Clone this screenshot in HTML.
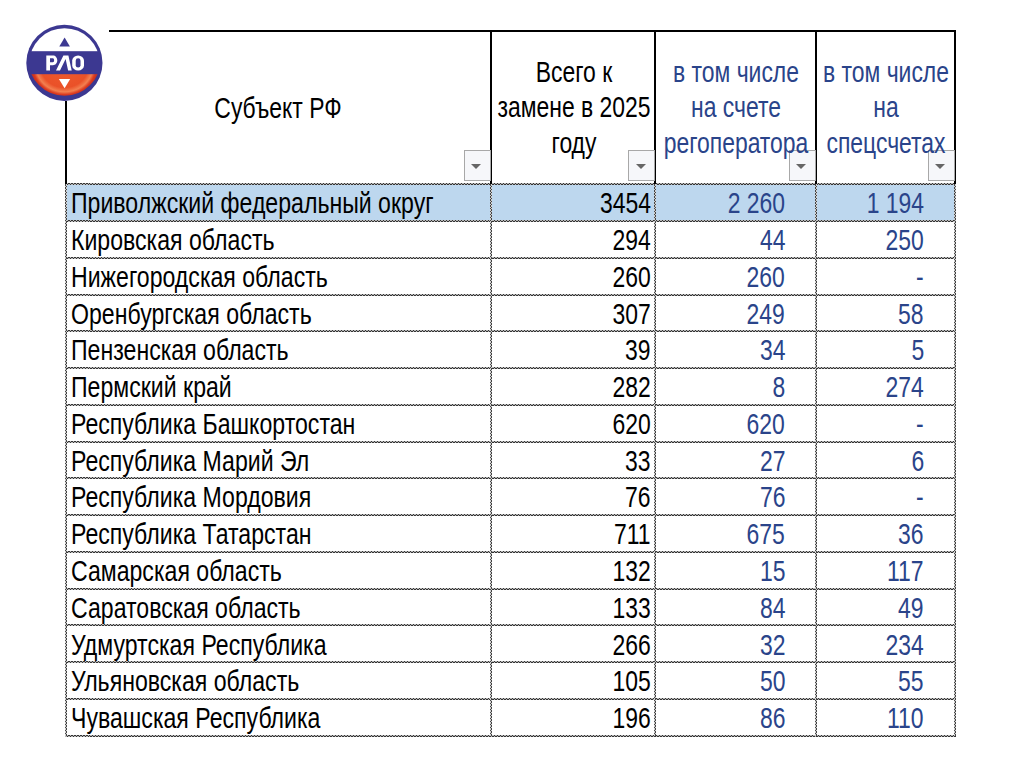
<!DOCTYPE html>
<html><head><meta charset="utf-8"><style>
html,body{margin:0;padding:0;background:#fff;width:1024px;height:767px;overflow:hidden;position:relative}
.t{position:absolute;font-family:"Liberation Sans",sans-serif;font-size:29.2px;line-height:29.2px;white-space:nowrap;transform:scaleX(0.785);transform-origin:0 0}
.t.n{transform:scaleX(0.7915)}
.t.r{transform-origin:100% 0}
.t.c{width:600px;text-align:center;transform-origin:50% 0}
.hd{position:absolute;left:65px;width:891px;height:2px;background:repeating-linear-gradient(90deg,#333 0 1.5px,#b8b8b8 1.5px 3px) 0 0/100% 1px no-repeat,repeating-linear-gradient(90deg,#b8b8b8 0 1.5px,#333 1.5px 3px) 0 1px/100% 1px no-repeat}
.vd{position:absolute;top:184px;height:552px;width:2px;background:repeating-linear-gradient(180deg,#444 0 1.5px,#d0d0d0 1.5px 3px) 0 0/1px 100% no-repeat,repeating-linear-gradient(180deg,#d0d0d0 0 1.5px,#444 1.5px 3px) 1px 0/1px 100% no-repeat}
.fb{position:absolute;top:150px;width:27px;height:31px;border:1px solid #a8a8a8;background:#f6f7fa;box-sizing:border-box}
.tri{position:absolute;left:6.5px;top:13px;width:0;height:0;border-left:5px solid transparent;border-right:5px solid transparent;border-top:5px solid #666}
</style></head><body>
<svg style="position:absolute;left:0;top:0" width="130" height="110" viewBox="0 0 130 110">
<defs>
<radialGradient id="rg" cx="64.5" cy="66" r="30" gradientTransform="translate(64.5 66) scale(1.1 1) translate(-64.5 -66)" gradientUnits="userSpaceOnUse">
<stop offset="0" stop-color="#EE5C2E"/><stop offset="0.72" stop-color="#EA5128"/><stop offset="0.86" stop-color="#F38050"/><stop offset="0.95" stop-color="#DC3B20"/><stop offset="1" stop-color="#CC321E"/>
</radialGradient>
<clipPath id="cc"><circle cx="64.5" cy="63.3" r="35.1"/></clipPath>
<clipPath id="cb"><circle cx="64.5" cy="59.4" r="36.3"/></clipPath>
</defs>
<circle cx="64.4" cy="62.9" r="38.1" fill="#3C3891"/>
<g clip-path="url(#cc)">
<rect x="20" y="20" width="90" height="31.2" fill="#fff"/>
</g>
<g clip-path="url(#cb)">
<rect x="20" y="74.2" width="90" height="30" fill="url(#rg)"/>
</g>
<path d="M59.3 46.4 L64.6 37.6 L69.9 46.4 Z" fill="#3C3891"/>
<path d="M58.9 79.1 L70.2 79.1 L64.6 88.2 Z" fill="#fff"/>
<path fill="#fff" fill-rule="evenodd" d="M46.3 70.6 V55.4 H53 C55.4 55.4 57.3 57.5 57.3 60.35 C57.3 63.2 55.4 65.3 53 65.3 H50 V70.6 Z M50 58.3 H52.8 C53.7 58.3 54.1 59.2 54.1 60.3 C54.1 61.4 53.7 62.3 52.8 62.3 H50 Z"/>
<path fill="#fff" d="M56 70.6 L63.4 55.4 L68.4 55.4 L71.7 70.6 L68.1 70.6 L65.6 59.1 L60 70.6 Z"/>
<rect x="72.2" y="55.4" width="11.8" height="15.2" rx="5.9" ry="5.2" fill="#fff"/>
<rect x="75.7" y="58.3" width="4.8" height="9.3" rx="2.4" fill="#3C3891"/>
</svg>
<div style="position:absolute;left:66px;top:184px;width:889px;height:37px;background:#BDD7EE"></div><div class="hd" style="top:183px"></div><div class="hd" style="top:220px"></div><div class="hd" style="top:257px"></div><div class="hd" style="top:294px"></div><div class="hd" style="top:330px"></div><div class="hd" style="top:367px"></div><div class="hd" style="top:404px"></div><div class="hd" style="top:441px"></div><div class="hd" style="top:477px"></div><div class="hd" style="top:514px"></div><div class="hd" style="top:551px"></div><div class="hd" style="top:588px"></div><div class="hd" style="top:624px"></div><div class="hd" style="top:661px"></div><div class="hd" style="top:698px"></div><div class="hd" style="top:735px"></div><div class="vd" style="left:65px"></div><div class="vd" style="left:490px"></div><div class="vd" style="left:654px"></div><div class="vd" style="left:815px"></div><div class="vd" style="left:954px"></div><div style="position:absolute;left:109px;top:30px;width:847px;height:2px;background:#000"></div><div style="position:absolute;left:65px;top:101px;width:1.5px;height:83px;background:#000"></div><div style="position:absolute;left:490px;top:30px;width:2px;height:154px;background:#000"></div><div style="position:absolute;left:654px;top:30px;width:2px;height:154px;background:#000"></div><div style="position:absolute;left:815px;top:30px;width:2px;height:154px;background:#000"></div><div style="position:absolute;left:954px;top:30px;width:2px;height:154px;background:#000"></div><div class="fb" style="left:463.70px"><div class="tri"></div></div><div class="fb" style="left:628.20px"><div class="tri"></div></div><div class="fb" style="left:788.70px"><div class="tri"></div></div><div class="fb" style="left:927.70px"><div class="tri"></div></div><div class="t c" style="left:-22.00px;top:94.28px;color:#000">Субъект РФ</div><div class="t c" style="left:274.00px;top:58.08px;color:#000">Всего к</div><div class="t c" style="left:274.00px;top:93.48px;color:#000">замене в 2025</div><div class="t c" style="left:274.00px;top:128.88px;color:#000">году</div><div class="t c" style="left:435.70px;top:58.08px;color:#2A448A">в том числе</div><div class="t c" style="left:435.70px;top:93.48px;color:#2A448A">на счете</div><div class="t c" style="left:435.70px;top:128.88px;color:#2A448A">регоператора</div><div class="t c" style="left:585.50px;top:58.08px;color:#2A448A">в том числе</div><div class="t c" style="left:585.50px;top:93.48px;color:#2A448A">на</div><div class="t c" style="left:585.50px;top:128.88px;color:#2A448A">спецсчетах</div><div class="t n" style="left:71.00px;top:189.38px;color:#000">Приволжский федеральный округ</div><div class="t r" style="right:373.30px;top:189.38px;color:#000">3454</div><div class="t r" style="right:239.00px;top:189.38px;color:#2A448A">2 260</div><div class="t r" style="right:100.20px;top:189.38px;color:#2A448A">1 194</div><div class="t n" style="left:71.00px;top:226.14px;color:#000">Кировская область</div><div class="t r" style="right:373.30px;top:226.14px;color:#000">294</div><div class="t r" style="right:239.00px;top:226.14px;color:#2A448A">44</div><div class="t r" style="right:100.20px;top:226.14px;color:#2A448A">250</div><div class="t n" style="left:71.00px;top:262.90px;color:#000">Нижегородская область</div><div class="t r" style="right:373.30px;top:262.90px;color:#000">260</div><div class="t r" style="right:239.00px;top:262.90px;color:#2A448A">260</div><div class="t r" style="right:100.20px;top:262.90px;color:#2A448A">-</div><div class="t n" style="left:71.00px;top:299.66px;color:#000">Оренбургская область</div><div class="t r" style="right:373.30px;top:299.66px;color:#000">307</div><div class="t r" style="right:239.00px;top:299.66px;color:#2A448A">249</div><div class="t r" style="right:100.20px;top:299.66px;color:#2A448A">58</div><div class="t n" style="left:71.00px;top:336.42px;color:#000">Пензенская область</div><div class="t r" style="right:373.30px;top:336.42px;color:#000">39</div><div class="t r" style="right:239.00px;top:336.42px;color:#2A448A">34</div><div class="t r" style="right:100.20px;top:336.42px;color:#2A448A">5</div><div class="t n" style="left:71.00px;top:373.18px;color:#000">Пермский край</div><div class="t r" style="right:373.30px;top:373.18px;color:#000">282</div><div class="t r" style="right:239.00px;top:373.18px;color:#2A448A">8</div><div class="t r" style="right:100.20px;top:373.18px;color:#2A448A">274</div><div class="t n" style="left:71.00px;top:409.94px;color:#000">Республика Башкортостан</div><div class="t r" style="right:373.30px;top:409.94px;color:#000">620</div><div class="t r" style="right:239.00px;top:409.94px;color:#2A448A">620</div><div class="t r" style="right:100.20px;top:409.94px;color:#2A448A">-</div><div class="t n" style="left:71.00px;top:446.70px;color:#000">Республика Марий Эл</div><div class="t r" style="right:373.30px;top:446.70px;color:#000">33</div><div class="t r" style="right:239.00px;top:446.70px;color:#2A448A">27</div><div class="t r" style="right:100.20px;top:446.70px;color:#2A448A">6</div><div class="t n" style="left:71.00px;top:483.46px;color:#000">Республика Мордовия</div><div class="t r" style="right:373.30px;top:483.46px;color:#000">76</div><div class="t r" style="right:239.00px;top:483.46px;color:#2A448A">76</div><div class="t r" style="right:100.20px;top:483.46px;color:#2A448A">-</div><div class="t n" style="left:71.00px;top:520.22px;color:#000">Республика Татарстан</div><div class="t r" style="right:373.30px;top:520.22px;color:#000">711</div><div class="t r" style="right:239.00px;top:520.22px;color:#2A448A">675</div><div class="t r" style="right:100.20px;top:520.22px;color:#2A448A">36</div><div class="t n" style="left:71.00px;top:556.98px;color:#000">Самарская область</div><div class="t r" style="right:373.30px;top:556.98px;color:#000">132</div><div class="t r" style="right:239.00px;top:556.98px;color:#2A448A">15</div><div class="t r" style="right:100.20px;top:556.98px;color:#2A448A">117</div><div class="t n" style="left:71.00px;top:593.74px;color:#000">Саратовская область</div><div class="t r" style="right:373.30px;top:593.74px;color:#000">133</div><div class="t r" style="right:239.00px;top:593.74px;color:#2A448A">84</div><div class="t r" style="right:100.20px;top:593.74px;color:#2A448A">49</div><div class="t n" style="left:71.00px;top:630.50px;color:#000">Удмуртская Республика</div><div class="t r" style="right:373.30px;top:630.50px;color:#000">266</div><div class="t r" style="right:239.00px;top:630.50px;color:#2A448A">32</div><div class="t r" style="right:100.20px;top:630.50px;color:#2A448A">234</div><div class="t n" style="left:71.00px;top:667.26px;color:#000">Ульяновская область</div><div class="t r" style="right:373.30px;top:667.26px;color:#000">105</div><div class="t r" style="right:239.00px;top:667.26px;color:#2A448A">50</div><div class="t r" style="right:100.20px;top:667.26px;color:#2A448A">55</div><div class="t n" style="left:71.00px;top:704.02px;color:#000">Чувашская Республика</div><div class="t r" style="right:373.30px;top:704.02px;color:#000">196</div><div class="t r" style="right:239.00px;top:704.02px;color:#2A448A">86</div><div class="t r" style="right:100.20px;top:704.02px;color:#2A448A">110</div>
</body></html>
